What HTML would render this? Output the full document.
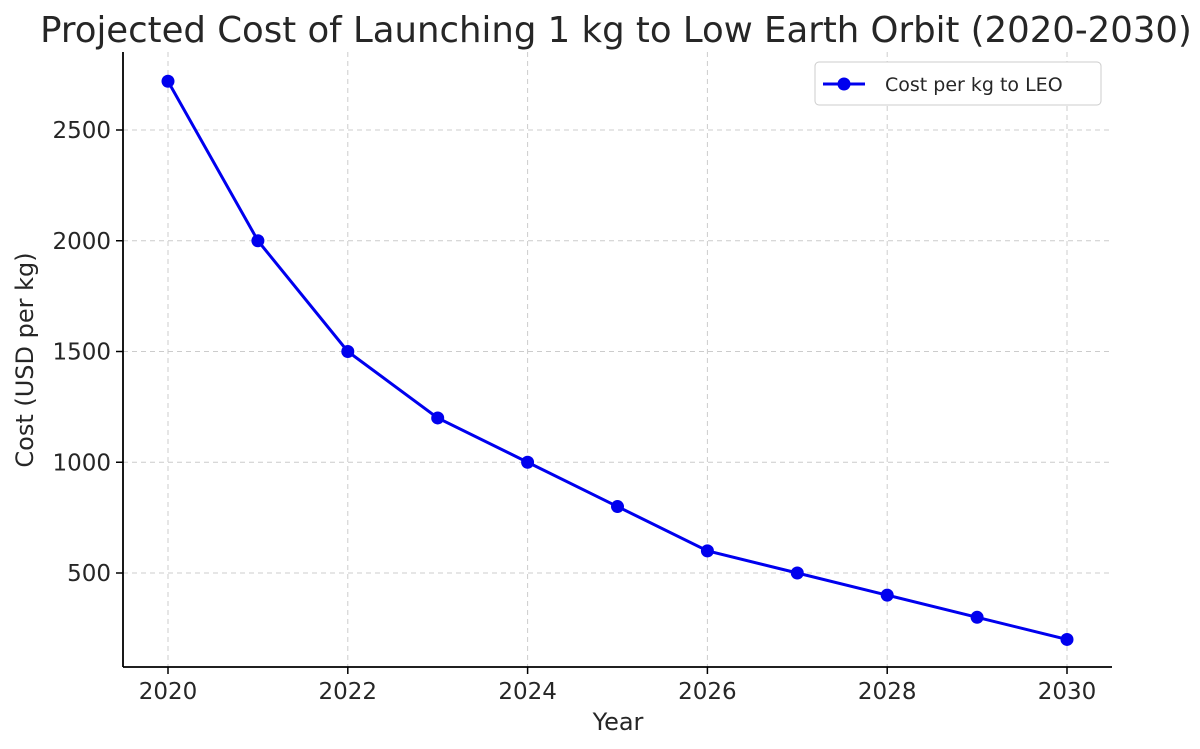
<!DOCTYPE html>
<html><head><meta charset="utf-8"><style>
body{margin:0;background:#fff;}
svg{display:block;font-family:"DejaVu Sans","Liberation Sans",sans-serif;}
</style></head><body>
<svg id="chart" width="1200" height="749">
<text x="616" y="42" font-size="35.5" fill="#262626" text-anchor="middle">Projected Cost of Launching 1 kg to Low Earth Orbit (2020-2030)</text>
<g id="grid"></g><g id="axes"></g><g id="series"></g>
<text x="618" y="730" font-size="24" fill="#262626" text-anchor="middle">Year</text>
<text transform="translate(33,360) rotate(-90)" font-size="24" fill="#262626" text-anchor="middle">Cost (USD per kg)</text>
<g>
<rect x="815" y="62" width="286" height="43" rx="4" fill="#fff" stroke="#ccc"/>
<line x1="823" y1="84" x2="865" y2="84" stroke="#0000ee" stroke-width="3"/>
<circle cx="844" cy="84" r="6.5" fill="#0000ee"/>
<text x="885" y="91" font-size="19" fill="#262626">Cost per kg to LEO</text>
</g>
</svg>
<script>
const years=[2020,2021,2022,2023,2024,2025,2026,2027,2028,2029,2030];
const costs=[2720,2000,1500,1200,1000,800,600,500,400,300,200];
const xTicks=[2020,2022,2024,2026,2028,2030];
const yTicks=[500,1000,1500,2000,2500];
const NS="http://www.w3.org/2000/svg";
function x(v){return 168+(v-2020)*89.9;}
function y(v){return 683.75-v*0.2215;}
function mk(t,a,p){const e=document.createElementNS(NS,t);for(const k in a)e.setAttribute(k,a[k]);p.appendChild(e);return e;}
const grid=document.getElementById('grid'),axes=document.getElementById('axes'),ser=document.getElementById('series');
xTicks.forEach(t=>{
const g=mk('line',{x1:x(t),x2:x(t),y1:52,y2:667,stroke:'#ccc','stroke-dasharray':'5,4'},grid);


mk('line',{x1:x(t),x2:x(t),y1:667,y2:674,stroke:'#000','stroke-width':1.5},axes);
const l=mk('text',{x:x(t),y:699,'font-size':23,fill:'#262626','text-anchor':'middle'},axes);
l.textContent=t;


});
yTicks.forEach(t=>{
const g=mk('line',{x1:123,x2:1112,y1:y(t),y2:y(t),stroke:'#ccc','stroke-dasharray':'5,4'},grid);


mk('line',{x1:116,x2:123,y1:y(t),y2:y(t),stroke:'#000','stroke-width':1.5},axes);
const l=mk('text',{x:111,y:y(t)+8,'font-size':23,fill:'#262626','text-anchor':'end'},axes);
l.textContent=t;


});
mk('line',{x1:123,x2:123,y1:52,y2:667,stroke:'#000','stroke-width':1.8},axes);
mk('line',{x1:123,x2:1112,y1:667,y2:667,stroke:'#000','stroke-width':1.8},axes);
const pl=mk('polyline',{points:years.map((v,i)=>x(v)+','+y(costs[i])).join(' '),fill:'none',stroke:'#0000ee','stroke-width':3},ser);


years.forEach((v,i)=>{
const c=mk('circle',{cx:x(v),cy:y(costs[i]),r:6.5,fill:'#0000ee'},ser);


});
</script>
</body></html>
